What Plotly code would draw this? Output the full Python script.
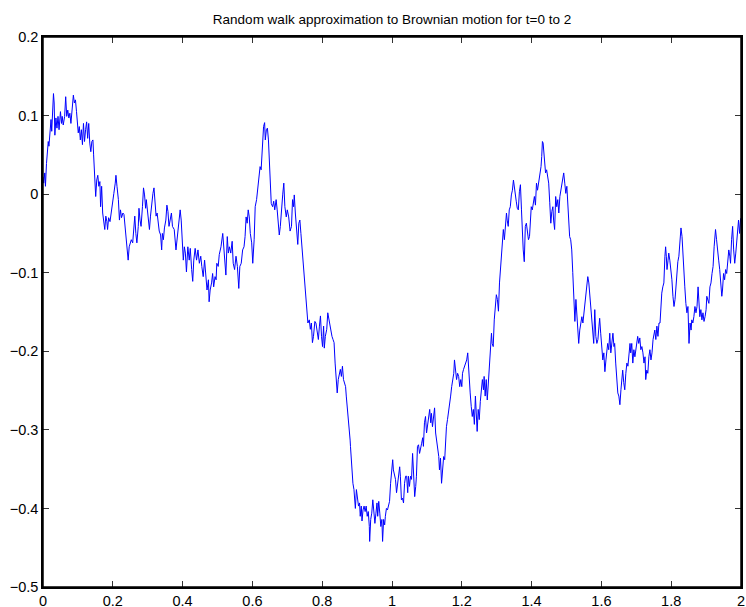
import plotly.graph_objects as go

title_text = "Random walk approximation to Brownian motion for t=0 to 2"

t_vals = [
0.000,0.002,0.005,0.007,0.010,0.012,0.015,0.017,0.020,0.023,0.025,0.028,0.030,0.032,0.034,0.037,0.040,0.043,0.046,0.050,
0.053,0.055,0.058,0.062,0.065,0.068,0.071,0.074,0.077,0.080,0.084,0.087,0.090,0.093,0.096,0.099,0.101,0.104,0.107,0.110,
0.113,0.116,0.119,0.122,0.125,0.128,0.131,0.134,0.137,0.140,0.143,0.145,0.148,0.151,0.154,0.157,0.160,0.163,0.165,0.168,
0.171,0.174,0.177,0.180,0.183,0.185,0.188,0.192,0.196,0.199,0.203,0.207,0.209,0.212,0.216,0.219,0.222,0.225,0.229,0.232,
0.235,0.238,0.241,0.244,0.247,0.250,0.253,0.257,0.260,0.263,0.266,0.269,0.273,0.275,0.278,0.281,0.285,0.288,0.291,0.294,
0.296,0.299,0.302,0.305,0.308,0.312,0.315,0.318,0.321,0.324,0.327,0.330,0.333,0.337,0.340,0.342,0.345,0.348,0.352,0.355,
0.358,0.361,0.365,0.368,0.371,0.376,0.381,0.386,0.388,0.393,0.396,0.399,0.402,0.405,0.408,0.411,0.415,
0.419,0.422,0.426,0.429,0.432,0.436,0.440,0.444,0.448,0.452,0.455,0.459,0.463,0.467,0.470,0.474,0.476,0.479,0.483,0.486,
0.489,0.493,0.496,0.498,0.502,0.505,0.510,0.515,0.518,0.521,0.524,0.528,0.531,0.534,0.538,0.542,0.545,0.549,0.553,0.557,
0.561,0.564,0.568,0.572,0.576,0.579,0.582,0.585,0.588,0.591,0.594,0.598,0.601,0.605,0.608,0.612,0.615,0.618,0.622,0.625,
0.628,0.630,0.632,0.635,0.637,0.640,0.643,0.646,0.649,0.652,0.654,0.658,0.661,0.664,0.668,0.671,0.675,0.677,0.680,0.684,
0.687,0.690,0.693,0.697,0.700,0.704,
0.708,0.712,0.715,0.718,0.720,0.723,0.727,0.730,0.733,0.736,0.739,0.742,0.744,0.747,0.750,0.754,0.757,0.759,0.763,0.766,
0.769,0.772,0.775,0.779,0.782,0.785,0.789,0.792,0.795,0.798,0.801,0.804,0.806,0.809,0.813,0.816,0.819,0.822,0.825,0.828,
0.831,0.834,0.837,0.840,0.843,0.846,0.849,0.852,0.855,0.858,0.861,0.864,0.867,0.869,0.872,0.874,0.877,0.880,
0.881,0.884,0.888,0.891,0.893,0.895,0.898,0.901,0.904,0.907,0.909,0.912,0.914,0.917,0.920,0.923,0.926,0.929,0.932,0.935,
0.936,0.939,0.942,0.945,0.948,0.951,0.954,0.957,0.959,0.962,0.965,0.968,0.971,0.973,0.976,0.979,0.981,0.984,0.987,0.990,
0.993,0.996,0.999,1.002,1.004,1.007,1.010,1.013,1.016,1.019,1.022,1.024,1.027,1.030,1.033,1.036,1.039,1.042,1.045,1.047,
1.050,1.053,1.056,1.059,1.062,1.065,1.068,1.070,1.073,1.076,1.079,1.082,1.085,1.088,1.090,1.093,1.096,1.099,1.102,1.105,
1.108,1.111,1.113,1.116,1.119,1.122,1.125,1.128,1.131,1.134,1.136,1.139,1.142,1.145,1.148,1.151,1.154,1.156,1.159,1.162,
1.165,1.168,1.171,1.174,1.177,1.179,1.182,1.185,1.188,1.191,1.194,1.197,1.200,1.202,1.205,1.208,1.211,1.214,1.217,1.220,
1.221,1.224,1.227,1.230,1.233,1.236,1.239,1.242,1.244,1.247,1.250,1.253,1.256,1.259,1.262,1.264,1.267,1.270,1.273,1.276,
1.279,1.282,1.285,1.287,1.290,1.293,1.296,1.299,1.302,1.305,1.308,1.310,1.313,1.316,1.319,1.322,1.325,1.328,1.330,1.333,
1.336,1.339,1.342,1.345,1.348,1.351,1.353,1.356,1.359,1.362,1.365,1.368,1.371,1.374,1.376,1.379,1.382,1.385,1.388,1.391,
1.394,1.396,1.399,1.402,1.405,1.408,1.411,1.414,1.417,1.419,1.422,1.425,1.427,1.429,1.431,1.433,1.435,1.438,1.440,1.443,
1.446,1.449,1.452,1.455,1.458,1.461,1.463,1.466,1.469,1.472,1.475,1.478,1.481,1.484,1.486,1.489,1.492,1.495,1.498,1.501,
1.504,1.506,1.509,1.512,1.515,1.518,1.521,1.524,1.527,1.529,1.532,1.535,1.538,1.541,1.544,1.547,1.549,1.552,1.555,1.558,
1.561,1.564,
1.567,1.570,1.572,1.575,1.578,1.581,1.584,1.587,1.590,1.593,1.595,1.598,1.601,1.604,1.607,1.610,1.613,1.615,1.618,1.621,
1.624,1.627,1.630,1.633,1.636,1.638,1.641,1.644,1.647,1.650,1.653,1.656,1.659,1.661,1.664,1.667,1.670,1.673,1.676,1.679,
1.682,1.684,1.687,1.690,1.693,1.696,1.699,1.702,1.704,1.707,1.710,1.713,1.716,1.719,1.722,1.725,1.727,1.730,1.733,1.736,
1.739,1.742,1.745,1.748,1.750,1.753,1.756,1.759,1.762,1.765,1.768,1.770,1.773,1.776,1.779,1.782,1.784,1.786,1.788,1.791,
1.793,1.796,1.799,1.802,1.805,1.808,1.811,1.813,1.816,1.819,1.822,1.825,1.828,1.831,1.834,1.836,1.839,1.842,1.845,1.848,
1.851,1.854,1.857,1.859,1.862,1.865,1.868,1.871,1.874,1.877,1.880,1.882,1.885,1.888,1.891,1.894,1.897,1.900,1.902,1.905,
1.908,1.911,1.914,1.917,1.920,1.923,1.925,1.927,1.930,1.933,1.936,1.939,1.942,1.945,1.947,1.950,1.953,1.956,1.959,1.962,
1.965,1.968,1.970,1.973,1.976,1.979,1.982,1.985,1.988,1.991,1.993,1.996,1.999,2.000,
]

w_vals = [
0.022,0.014,0.027,0.010,0.039,0.054,0.067,0.061,0.082,0.095,0.080,0.120,0.128,0.116,0.075,0.097,0.084,0.099,0.082,0.105,
0.090,0.099,0.088,0.099,0.124,0.099,0.107,0.097,0.103,0.090,0.114,0.126,0.116,0.120,0.105,0.092,0.078,0.086,0.069,0.082,
0.063,0.090,0.067,0.082,0.092,0.071,0.090,0.065,0.054,0.067,0.069,0.050,0.027,-0.003,0.018,0.024,0.010,0.016,-0.016,0.010,
-0.024,-0.037,-0.045,-0.028,-0.035,-0.045,-0.030,-0.035,-0.024,-0.011,0.001,0.014,0.024,0.010,-0.007,-0.033,-0.020,-0.030,-0.024,-0.026,
-0.041,-0.058,-0.067,-0.084,-0.067,-0.062,-0.058,-0.062,-0.047,-0.028,-0.050,-0.062,-0.041,-0.018,-0.033,-0.041,-0.016,0.008,-0.001,-0.018,
-0.007,-0.020,-0.037,-0.045,-0.028,-0.007,0.001,0.008,-0.016,-0.028,-0.024,-0.033,-0.047,-0.052,-0.071,-0.050,-0.058,-0.043,-0.033,-0.014,
-0.022,-0.041,-0.033,-0.024,-0.041,-0.045,-0.071,-0.050,-0.041,-0.020,-0.033,-0.054,-0.084,-0.067,-0.075,-0.099,-0.067,
-0.084,-0.069,-0.096,-0.111,-0.084,-0.069,-0.084,-0.071,-0.088,-0.079,-0.092,-0.105,-0.084,-0.113,-0.122,-0.109,-0.137,-0.122,-0.113,-0.101,
-0.118,-0.105,-0.109,-0.088,-0.092,-0.077,-0.067,-0.050,-0.071,-0.092,-0.103,-0.054,-0.075,-0.067,-0.075,-0.060,-0.088,-0.096,-0.079,-0.092,
-0.120,-0.092,-0.088,-0.071,-0.067,-0.054,-0.029,-0.037,-0.020,-0.029,-0.050,-0.062,-0.088,-0.058,-0.016,-0.007,0.005,0.018,0.035,0.031,
0.052,0.069,0.086,0.091,0.069,0.082,0.084,0.069,0.035,0.018,-0.012,-0.016,-0.009,-0.020,-0.007,-0.020,-0.041,-0.052,-0.041,-0.012,
0.000,0.014,-0.016,-0.029,-0.020,-0.029,
-0.047,-0.041,-0.007,-0.016,-0.001,-0.024,-0.045,-0.064,-0.037,-0.033,-0.050,-0.066,-0.083,-0.100,-0.117,-0.134,-0.151,-0.164,-0.160,-0.172,
-0.164,-0.189,-0.181,-0.162,-0.164,-0.172,-0.185,-0.168,-0.155,-0.181,-0.194,-0.168,-0.196,-0.181,-0.172,-0.151,-0.160,-0.168,-0.172,-0.181,
-0.185,-0.189,-0.215,-0.232,-0.253,-0.236,-0.228,-0.223,-0.232,-0.219,-0.236,-0.240,-0.245,-0.257,-0.270,-0.287,-0.296,-0.313,
-0.321,-0.347,-0.368,-0.376,-0.389,-0.400,-0.376,-0.389,-0.397,-0.393,-0.410,-0.397,-0.416,-0.402,-0.397,-0.404,-0.397,-0.410,-0.404,-0.423,
-0.442,-0.414,-0.406,-0.389,-0.402,-0.419,-0.406,-0.393,-0.410,-0.391,-0.406,-0.423,-0.414,-0.442,-0.414,-0.421,-0.410,-0.400,-0.402,-0.397,
-0.391,-0.368,-0.351,-0.338,-0.351,-0.359,-0.363,-0.380,-0.370,-0.355,-0.347,-0.359,-0.389,-0.387,-0.393,-0.368,-0.359,-0.359,-0.380,-0.359,
-0.372,-0.359,-0.363,-0.330,-0.368,-0.385,-0.372,-0.359,-0.321,-0.319,-0.330,-0.321,-0.317,-0.310,-0.321,-0.291,-0.283,-0.304,-0.291,-0.287,
-0.274,-0.291,-0.279,-0.296,-0.287,-0.272,-0.304,-0.313,-0.321,-0.334,-0.351,-0.336,-0.368,-0.342,-0.334,-0.338,-0.304,-0.296,-0.287,-0.274,
-0.262,-0.257,-0.245,-0.236,-0.228,-0.211,-0.228,-0.236,-0.228,-0.232,-0.245,-0.236,-0.245,-0.228,-0.223,-0.219,-0.215,-0.211,-0.202,-0.232,
-0.232,-0.253,-0.270,-0.283,-0.274,-0.293,-0.257,-0.283,-0.302,-0.274,-0.287,-0.264,-0.245,-0.236,-0.249,-0.232,-0.257,-0.236,-0.262,-0.240,
-0.223,-0.207,-0.177,-0.190,-0.194,-0.160,-0.147,-0.128,-0.134,-0.149,-0.113,-0.100,-0.075,-0.058,-0.045,-0.058,-0.041,-0.024,-0.033,-0.041,
-0.020,-0.016,-0.001,0.005,0.018,0.010,0.001,-0.009,-0.018,-0.020,0.003,0.012,-0.020,-0.058,-0.071,-0.086,-0.041,-0.037,-0.045,-0.058,
-0.054,-0.033,-0.016,-0.020,-0.007,-0.003,-0.014,0.014,0.005,0.010,0.020,0.029,0.035,0.048,0.067,0.065,0.052,0.044,0.027,0.031,
0.022,0.014,-0.011,-0.037,-0.022,-0.016,-0.033,-0.045,-0.003,-0.016,-0.007,-0.024,-0.003,0.005,0.014,0.022,0.027,0.014,0.001,0.010,
-0.011,-0.037,-0.054,-0.058,-0.071,-0.100,-0.130,-0.162,-0.134,-0.147,-0.164,-0.190,-0.173,-0.164,-0.156,-0.164,-0.156,-0.147,-0.130,-0.118,
-0.105,-0.113,
-0.130,-0.143,-0.156,-0.173,-0.190,-0.147,-0.181,-0.190,-0.185,-0.168,-0.158,-0.177,-0.198,-0.211,-0.202,-0.226,-0.211,-0.202,-0.190,-0.198,
-0.177,-0.202,-0.190,-0.177,-0.194,-0.190,-0.215,-0.240,-0.253,-0.257,-0.268,-0.249,-0.236,-0.224,-0.240,-0.249,-0.228,-0.215,-0.219,-0.207,
-0.190,-0.202,-0.190,-0.215,-0.198,-0.207,-0.198,-0.190,-0.181,-0.190,-0.183,-0.198,-0.194,-0.202,-0.215,-0.207,-0.236,-0.224,-0.228,-0.207,
-0.198,-0.211,-0.202,-0.185,-0.181,-0.173,-0.185,-0.168,-0.181,-0.164,-0.164,-0.143,-0.126,-0.118,-0.113,-0.079,-0.067,-0.079,-0.096,-0.084,
-0.075,-0.084,-0.096,-0.109,-0.130,-0.143,-0.134,-0.118,-0.096,-0.086,-0.079,-0.064,-0.043,-0.054,-0.084,-0.098,-0.118,-0.139,-0.151,-0.143,
-0.190,-0.164,-0.173,-0.160,-0.164,-0.156,-0.143,-0.151,-0.143,-0.118,-0.147,-0.156,-0.147,-0.160,-0.151,-0.162,-0.156,-0.147,-0.130,-0.134,
-0.139,-0.118,-0.113,-0.101,-0.092,-0.067,-0.050,-0.045,-0.058,-0.075,-0.084,-0.096,-0.109,-0.130,-0.122,-0.101,-0.109,-0.096,-0.101,-0.088,
-0.071,-0.079,-0.088,-0.058,-0.041,-0.071,-0.088,-0.075,-0.062,-0.045,-0.033,-0.050,-0.031,-0.035,
]

x_ticks = [0, 0.2, 0.4, 0.6, 0.8, 1, 1.2, 1.4, 1.6, 1.8, 2]
y_ticks = [0.2, 0.1, 0, -0.1, -0.2, -0.3, -0.4, -0.5]

font_family = "Liberation Sans, Arial, sans-serif"

fig = go.Figure()
fig.add_trace(go.Scatter(
    x=t_vals, y=w_vals, mode="lines",
    line=dict(color="rgb(0,0,255)", width=1),
    hoverinfo="skip", showlegend=False,
))

axis_common = dict(
    showline=True, linecolor="black", linewidth=1.5, mirror="ticks",
    ticks="inside", ticklen=6, tickcolor="#333333", tickwidth=1.2,
    showgrid=False, zeroline=False, automargin=False,
    tickfont=dict(family=font_family, size=14.5, color="black"),
)

fig.update_layout(
    template="none",
    width=746, height=607,
    margin=dict(l=43, r=5, t=37, b=20, autoexpand=False),
    paper_bgcolor="white", plot_bgcolor="white",
    xaxis=dict(range=[0, 2], tickmode="array", tickvals=x_ticks, **axis_common),
    yaxis=dict(range=[-0.5, 0.2], tickmode="array", tickvals=y_ticks, **axis_common),
    title=dict(
        text=title_text, x=0.5, xref="paper", xanchor="center",
        y=1, yref="paper", yanchor="bottom", pad=dict(b=13), automargin=False,
        font=dict(family=font_family, size=13.5, color="black"),
    ),
    shapes=[dict(type="rect", xref="paper", yref="paper", x0=0, y0=0, x1=1, y1=1,
                 line=dict(color="black", width=1.5), fillcolor="rgba(0,0,0,0)", layer="above")],
)

fig.write_html(
    "out.html",
    config={"displayModeBar": False},
    post_script="document.body.style.margin='0';document.body.style.overflow='hidden';",
)
